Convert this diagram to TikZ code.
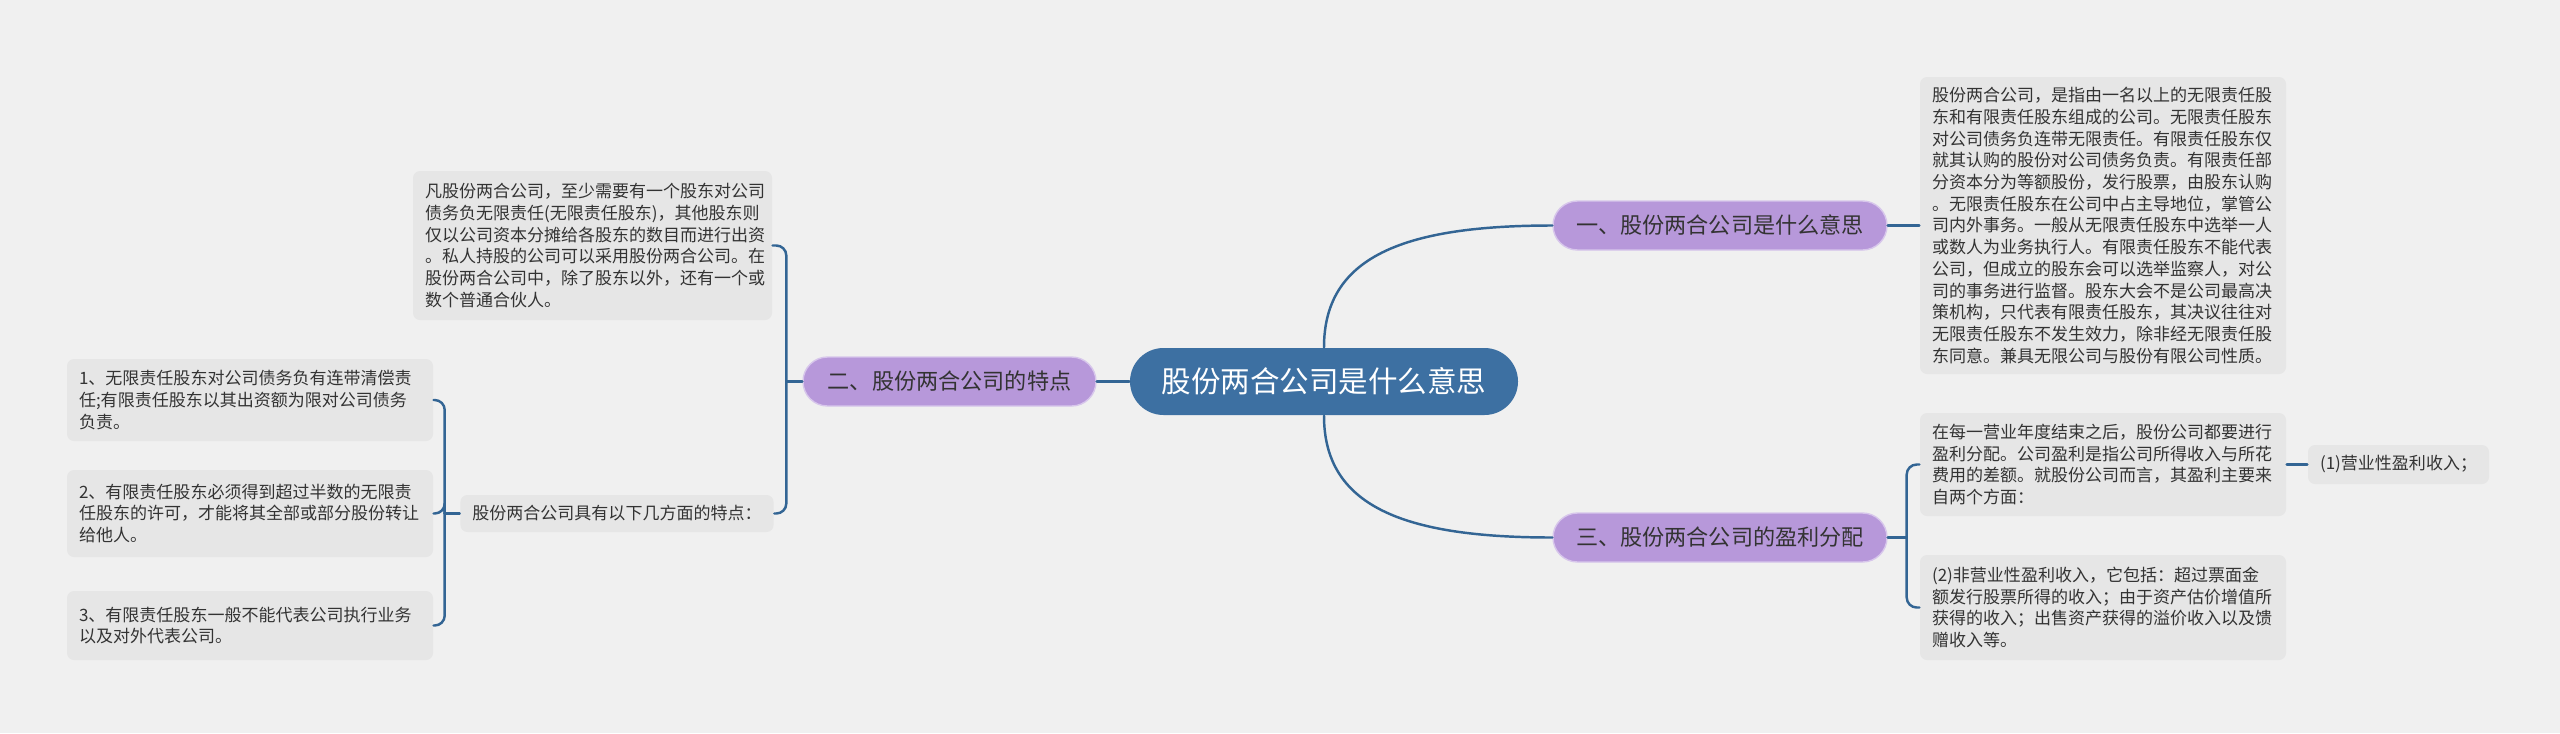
\documentclass[tikz,border=0pt]{standalone}
\usepackage{fontspec}
\setmainfont{Noto Sans CJK SC}
\usepackage{tikz}
\usetikzlibrary{positioning,calc}
\definecolor{paper}{HTML}{F0F0F0}
\definecolor{rootblue}{HTML}{3D70A2}
\definecolor{lilac}{HTML}{B798DA}
\definecolor{notegray}{HTML}{E6E6E6}
\definecolor{ink}{HTML}{333333}
\definecolor{linkblue}{HTML}{336594}
\tikzset{
    every picture/.style={line cap=round,line join=round},
    rootnode/.style={fill=rootblue,text=white,rounded corners=0.335cm,
      minimum width=3.88cm,minimum height=0.67cm,inner sep=0pt,
      font=\fontsize{8.4pt}{10pt}\selectfont},
    topicnode/.style={fill=lilac,draw=lilac!55!white,line width=0.4pt,
      text=ink,rounded corners=0.245cm,
      minimum height=0.49cm,inner sep=0pt,
      font=\fontsize{6.3pt}{7.5pt}\selectfont},
    notebox/.style={fill=notegray,text=ink,rounded corners=0.07cm,
      inner xsep=0.12cm,inner ysep=0pt,align=left,
      font=\fontsize{4.84pt}{6.17pt}\selectfont},
    linkline/.style={draw=linkblue,line width=0.7pt}
}

\begin{document}
\begin{tikzpicture}
  \useasboundingbox (0,0) rectangle (25.6,-7.33);
  \fill[paper] (0,0) rectangle (25.6,-7.33);

  % centre and the three topics
  \node[rootnode] (root) at (13.24,-3.815) {股份两合公司是什么意思};
  \node[topicnode,minimum width=3.34cm] (one) at (17.20,-2.255)
    {一、股份两合公司是什么意思};
  \node[topicnode,minimum width=2.93cm] (two) at (9.495,-3.815)
    {二、股份两合公司的特点};
  \node[topicnode,minimum width=3.34cm] (three) at (17.20,-5.375)
    {三、股份两合公司的盈利分配};

  \draw[linkline] (root.north) .. controls +(0,0.9) and +(-1.5,0) .. (one.west);
  \draw[linkline] (root.south) .. controls +(0,-0.9) and +(-1.5,0) .. (three.west);
  \draw[linkline] (root.west) -- (two.east);

  % topic one
  \node[notebox,text width=3.42cm,minimum height=2.97cm] (define) at (21.03,-2.255)
    {股份两合公司，是指由一名以上的无限责任股\\
     东和有限责任股东组成的公司。无限责任股东\\
     对公司债务负连带无限责任。有限责任股东仅\\
     就其认购的股份对公司债务负责。有限责任部\\
     分资本分为等额股份，发行股票，由股东认购\\
     。无限责任股东在公司中占主导地位，掌管公\\
     司内外事务。一般从无限责任股东中选举一人\\
     或数人为业务执行人。有限责任股东不能代表\\
     公司，但成立的股东会可以选举监察人，对公\\
     司的事务进行监督。股东大会不是公司最高决\\
     策机构，只代表有限责任股东，其决议往往对\\
     无限责任股东不发生效力，除非经无限责任股\\
     东同意。兼具无限公司与股份有限公司性质。};
  \draw[linkline] (one.east) -- (define.west);

  % topic two
  \node[notebox,text width=3.35cm,minimum height=1.49cm] (intro) at (5.925,-2.455)
    {凡股份两合公司，至少需要有一个股东对公司\\
     债务负无限责任(无限责任股东)，其他股东则\\
     仅以公司资本分摊给各股东的数目而进行出资\\
     。私人持股的公司可以采用股份两合公司。在\\
     股份两合公司中，除了股东以外，还有一个或\\
     数个普通合伙人。};
  \node[notebox,minimum width=3.10cm,minimum height=0.37cm] (traits) at (6.17,-5.135)
    {股份两合公司具有以下几方面的特点：};
  \coordinate (twoj) at ($(two.west)+(-0.16,0)$);
  \draw[linkline] (two.west) -- (twoj);
  \draw[linkline,rounded corners=0.1cm] (twoj) |- (intro.east);
  \draw[linkline,rounded corners=0.1cm] (twoj) |- (traits.east);

  \coordinate (traitsj) at ($(traits.west)+(-0.15,0)$);
  \draw[linkline] (traits.west) -- (traitsj);
  \foreach \n/\y/\h/\body in {
      1/4.00/0.82/{1、无限责任股东对公司债务负有连带清偿责\\任;有限责任股东以其出资额为限对公司债务\\负责。},
      2/5.135/0.87/{2、有限责任股东必须得到超过半数的无限责\\任股东的许可，才能将其全部或部分股份转让\\给他人。},
      3/6.255/0.69/{3、有限责任股东一般不能代表公司执行业务\\以及对外代表公司。}} {
    \node[notebox,text width=3.42cm,minimum height=\h cm] (item\n) at (2.50,-\y) {\body};
    \draw[linkline,rounded corners=0.1cm] (traitsj) |- (item\n.east);
  }

  % topic three
  \node[notebox,text width=3.42cm,minimum height=1.03cm] (profit) at (21.03,-4.645)
    {在每一营业年度结束之后，股份公司都要进行\\
     盈利分配。公司盈利是指公司所得收入与所花\\
     费用的差额。就股份公司而言，其盈利主要来\\
     自两个方面：};
  \node[notebox,minimum width=1.73cm,minimum height=0.39cm] (income) at (23.985,-4.645)
    {(1)营业性盈利收入；};
  \node[notebox,text width=3.42cm,minimum height=1.05cm] (other) at (21.03,-6.075)
    {(2)非营业性盈利收入，它包括：超过票面金\\
     额发行股票所得的收入；由于资产估价增值所\\
     获得的收入；出售资产获得的溢价收入以及馈\\
     赠收入等。};
  \coordinate (threej) at ($(three.east)+(0.19,0)$);
  \draw[linkline] (three.east) -- (threej);
  \draw[linkline,rounded corners=0.1cm] (threej) |- (profit.west);
  \draw[linkline,rounded corners=0.1cm] (threej) |- (other.west);
  \draw[linkline] (profit.east) -- (income.west);
\end{tikzpicture}
\end{document}
